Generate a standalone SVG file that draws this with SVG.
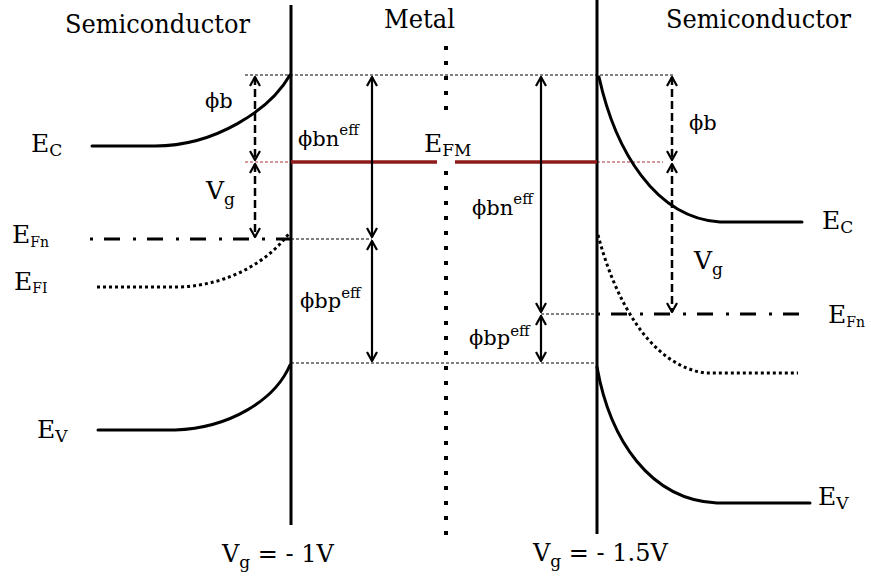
<svg xmlns="http://www.w3.org/2000/svg" width="871" height="576" viewBox="0 0 871 576">
<style>
text{font-family:"DejaVu Serif",serif;fill:#000}
.big{font-size:25px}
.hdr{font-size:26px}
.sub{font-size:17px}
.ssub{font-size:14px}
.phi{font-size:21px}
.sup{font-size:15px}
.bot{font-size:24px}
.wall{stroke:#000;stroke-width:3;fill:none}
.band{stroke:#000;stroke-width:3;fill:none;stroke-linecap:round}
.dots{stroke:#000;stroke-width:3;fill:none;stroke-dasharray:3 3}
.dashdot{stroke:#000;stroke-width:3;fill:none;stroke-dasharray:3 11 16 13}
.thin{stroke:#000;stroke-width:1;fill:none;stroke-dasharray:3 2}
.redthin{stroke:#a83232;stroke-width:1;fill:none;stroke-dasharray:3 2}
.red{stroke:#8e1b1b;stroke-width:3.5;fill:none}
.mdots{stroke:#000;stroke-width:4;fill:none;stroke-dasharray:4 11}
.arr{stroke:#000;stroke-width:2.2;fill:none;marker-start:url(#ah);marker-end:url(#ah)}
.darr{stroke:#000;stroke-width:2.5;fill:none;stroke-dasharray:8 4;marker-start:url(#ah);marker-end:url(#ah)}
</style>
<defs>
<marker id="ah" viewBox="0 0 12 12" refX="11" refY="6" markerWidth="12" markerHeight="12" markerUnits="userSpaceOnUse" orient="auto-start-reverse">
<path d="M2,1 L11,6 L2,11" fill="none" stroke="#000" stroke-width="2.2"/>
</marker>
</defs>
<rect width="871" height="576" fill="#fff"/>

<g id="headers">
<text class="hdr" x="65" y="33" textLength="185" lengthAdjust="spacingAndGlyphs">Semiconductor</text>
<text class="hdr" x="384" y="28" textLength="71" lengthAdjust="spacingAndGlyphs">Metal</text>
<text class="hdr" x="666" y="28" textLength="185" lengthAdjust="spacingAndGlyphs">Semiconductor</text>
</g>

<g id="reference-lines">
<line class="thin" x1="245" y1="75" x2="673" y2="75"/>
<line class="thin" x1="291" y1="239" x2="372" y2="239"/>
<line class="thin" x1="291" y1="363" x2="597" y2="363"/>
<line class="thin" x1="541" y1="314" x2="597" y2="314"/>
<line class="redthin" x1="245" y1="162" x2="291" y2="162"/>
<line class="redthin" x1="597" y1="162" x2="663" y2="162"/>
</g>

<g id="interfaces">
<line class="wall" x1="291" y1="5" x2="291" y2="525"/>
<line class="wall" x1="597" y1="0" x2="597" y2="534"/>
<line class="mdots" x1="446" y1="46" x2="446" y2="112"/>
<line class="mdots" x1="446" y1="171" x2="446" y2="545"/>
</g>

<g id="metal-fermi">
<line class="red" x1="291" y1="162" x2="437" y2="162"/>
<line class="red" x1="455" y1="162" x2="597" y2="162"/>
</g>

<g id="left-bands">
<path class="band" d="M92,146 L155,146 C215,146 270,110 290,75"/>
<line class="dashdot" x1="90" y1="239" x2="290" y2="239"/>
<path class="dots" d="M97,287 L180,287 C230,285 270,260 290,232"/>
<path class="band" d="M98,430 L175,430 C230,428 275,400 290,365"/>
</g>

<g id="right-bands">
<path class="band" d="M599,77 C615,150 655,218 720,222 L802,222"/>
<line class="dashdot" x1="597" y1="314" x2="812" y2="314"/>
<path class="dots" d="M598,235 C615,300 650,365 705,373 L798,373"/>
<path class="band" d="M597,367 C610,440 650,500 717,503 L810,503"/>
</g>

<g id="connectors">
<line class="darr" x1="255" y1="77" x2="255" y2="160"/>
<line class="darr" x1="255" y1="164" x2="255" y2="237"/>
<line class="arr" x1="372" y1="77" x2="372" y2="237"/>
<line class="arr" x1="372" y1="241" x2="372" y2="361"/>
<line class="arr" x1="541" y1="77" x2="541" y2="312"/>
<line class="arr" x1="541" y1="316" x2="541" y2="361"/>
<line class="darr" x1="672" y1="77" x2="672" y2="160"/>
<line class="darr" x1="672" y1="164" x2="672" y2="312"/>
</g>

<g id="labels">
<text class="big" x="31" y="152">E<tspan class="sub" dy="4">C</tspan></text>
<text class="phi" x="205" y="108">ϕb</text>
<text class="big" x="206" y="199">V<tspan class="sub" dy="6">g</tspan></text>
<text class="big" x="12" y="243">E<tspan class="ssub" dy="4">Fn</tspan></text>
<text class="big" x="14" y="290">E<tspan class="ssub" dy="3">FI</tspan></text>
<text class="big" x="37" y="438">E<tspan class="sub" dy="4">V</tspan></text>
<text class="phi" x="298" y="146">ϕbn<tspan class="sup" dy="-11">eff</tspan></text>
<text class="big" x="424" y="152">E<tspan class="sub" dy="4">FM</tspan></text>
<text class="phi" x="472" y="215">ϕbn<tspan class="sup" dy="-11">eff</tspan></text>
<text class="phi" x="300" y="308">ϕbp<tspan class="sup" dy="-10">eff</tspan></text>
<text class="phi" x="469" y="345">ϕbp<tspan class="sup" dy="-9">eff</tspan></text>
<text class="phi" x="689" y="130">ϕb</text>
<text class="big" x="822" y="229">E<tspan class="sub" dy="4">C</tspan></text>
<text class="big" x="694" y="269">V<tspan class="sub" dy="6">g</tspan></text>
<text class="big" x="828" y="323">E<tspan class="ssub" dy="4">Fn</tspan></text>
<text class="big" x="818" y="505">E<tspan class="sub" dy="4">V</tspan></text>
<text class="bot" x="222" y="562">V<tspan class="sub" dy="6">g</tspan><tspan dy="-6"> = - 1V</tspan></text>
<text class="bot" x="533" y="561">V<tspan class="sub" dy="6">g</tspan><tspan dy="-6"> = - 1.5V</tspan></text>
</g>
</svg>
